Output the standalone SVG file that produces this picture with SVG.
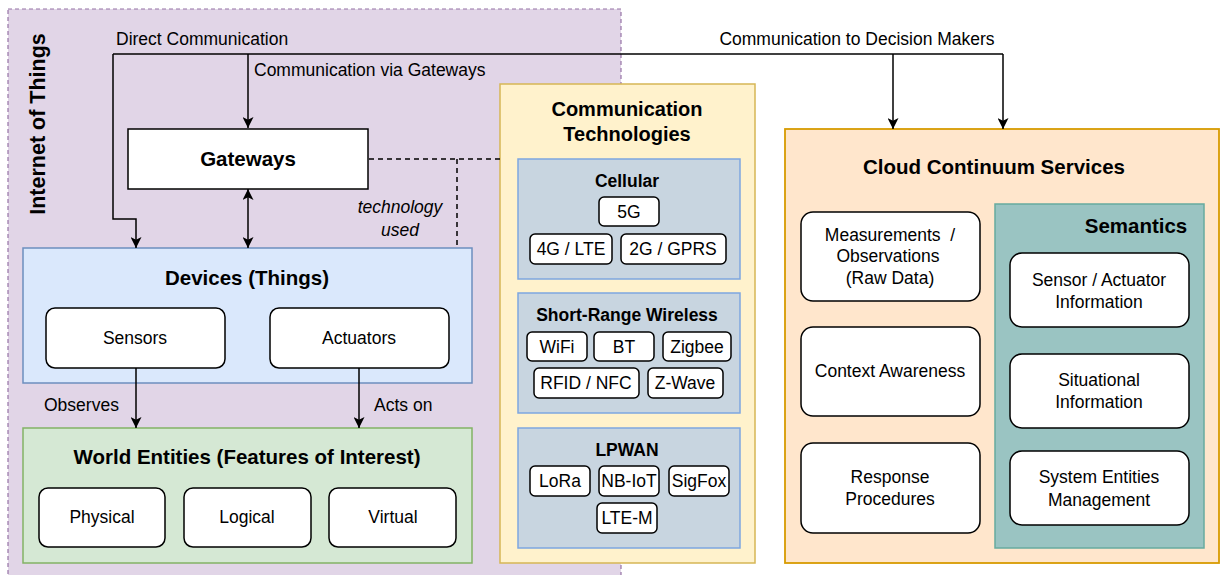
<svg xmlns="http://www.w3.org/2000/svg" width="1221" height="575" viewBox="0 0 1221 575">
<defs>
<style>
text{font-family:"Liberation Sans",Arial,sans-serif;fill:#000}
.t{font-size:17.5px;text-anchor:middle}
.l{font-size:17.5px}
.h{font-size:20.5px;font-weight:bold;text-anchor:middle}
.s{font-size:17.5px;font-weight:bold;text-anchor:middle}
.it{font-size:17.5px;font-style:italic;text-anchor:middle}
.w{fill:#fff;stroke:#000;stroke-width:1.5}
.c{fill:none;stroke:#000;stroke-width:1.5}
.d{fill:none;stroke:#000;stroke-width:1.5;stroke-dasharray:5 4}
.grp{fill:#c8d5e0;stroke:#7ea6e0;stroke-width:1.5}
</style>
<marker id="ah" viewBox="0 0 10 10" refX="10" refY="5" markerWidth="11" markerHeight="11" markerUnits="userSpaceOnUse" orient="auto-start-reverse">
<path d="M0,0 L10,5 L0,10 L2.5,5 z" fill="#000"/>
</marker>
</defs>
<rect width="1221" height="575" fill="#fff"/>

<g id="iot">
<rect x="8" y="9" width="613" height="590" fill="#e1d5e7" stroke="#9673a6" stroke-width="1.2" stroke-dasharray="4 3"/>
<text transform="translate(45,124) rotate(-90)" style="font-size:21.5px;font-weight:bold;text-anchor:middle">Internet of Things</text>
</g>

<g id="gateways">
<rect class="w" x="128" y="129" width="240" height="60"/>
<text class="h" x="248" y="166">Gateways</text>
</g>

<g id="devices">
<rect x="23" y="248" width="449" height="135" fill="#dae8fc" stroke="#6c8ebf" stroke-width="1.5"/>
<text class="h" x="247" y="285">Devices (Things)</text>
</g>
<g id="sensors"><rect class="w" x="46" y="308" width="179" height="60" rx="9"/><text class="t" x="135" y="344">Sensors</text></g>
<g id="actuators"><rect class="w" x="270" y="308" width="179" height="60" rx="9"/><text class="t" x="359" y="344">Actuators</text></g>

<g id="world">
<rect x="23" y="428" width="449" height="135" fill="#d5e8d4" stroke="#82b366" stroke-width="1.5"/>
<text class="h" x="247" y="464">World Entities (Features of Interest)</text>
</g>
<g id="physical"><rect class="w" x="39" y="488" width="126" height="59" rx="9"/><text class="t" x="102" y="523">Physical</text></g>
<g id="logical"><rect class="w" x="184" y="488" width="127" height="59" rx="9"/><text class="t" x="247" y="523">Logical</text></g>
<g id="virtual"><rect class="w" x="329" y="488" width="127" height="59" rx="9"/><text class="t" x="393" y="523">Virtual</text></g>

<g id="commtech">
<rect x="500" y="84" width="255" height="479" fill="#fff2cc" stroke="#d6b656" stroke-width="1.5"/>
<text class="h" x="627" y="116" style="font-size:20px">Communication</text>
<text class="h" x="627" y="141" style="font-size:20px">Technologies</text>
</g>
<g id="cellular">
<rect class="grp" x="518" y="159" width="222" height="120"/>
<text class="s" x="627" y="187">Cellular</text>
<rect class="w" x="599" y="197" width="60" height="29" rx="5"/><text class="t" x="629" y="218">5G</text>
<rect class="w" x="530" y="234" width="82" height="30" rx="5"/><text class="t" x="571" y="255">4G / LTE</text>
<rect class="w" x="621" y="234" width="105" height="30" rx="5"/><text class="t" x="673" y="255">2G / GPRS</text>
</g>
<g id="shortrange">
<rect class="grp" x="518" y="293" width="222" height="120"/>
<text class="s" x="627" y="321">Short-Range Wireless</text>
<rect class="w" x="527" y="332" width="60" height="29" rx="5"/><text class="t" x="557" y="353">WiFi</text>
<rect class="w" x="594" y="332" width="60" height="29" rx="5"/><text class="t" x="624" y="353">BT</text>
<rect class="w" x="663" y="332" width="68" height="29" rx="5"/><text class="t" x="697" y="353">Zigbee</text>
<rect class="w" x="534" y="368" width="105" height="30" rx="5"/><text class="t" x="586" y="389">RFID / NFC</text>
<rect class="w" x="648" y="368" width="75" height="30" rx="5"/><text class="t" x="685" y="389">Z-Wave</text>
</g>
<g id="lpwan">
<rect class="grp" x="518" y="428" width="222" height="120"/>
<text class="s" x="627" y="456">LPWAN</text>
<rect class="w" x="530" y="466" width="60" height="30" rx="5"/><text class="t" x="560" y="487">LoRa</text>
<rect class="w" x="599" y="466" width="60" height="30" rx="5"/><text class="t" x="629" y="487">NB-IoT</text>
<rect class="w" x="669" y="466" width="60" height="30" rx="5"/><text class="t" x="699" y="487">SigFox</text>
<rect class="w" x="597" y="503" width="60" height="30" rx="5"/><text class="t" x="627" y="524">LTE-M</text>
</g>

<g id="cloud">
<rect x="785" y="129" width="434" height="434" fill="#ffe6cc" stroke="#d79b00" stroke-width="1.8"/>
<text class="h" x="994" y="174">Cloud Continuum Services</text>
</g>
<g id="measurements"><rect class="w" x="801" y="212" width="179" height="89" rx="12"/>
<text class="t" x="890" y="241" xml:space="preserve">Measurements  /</text><text class="t" x="888" y="262">Observations</text><text class="t" x="890" y="284">(Raw Data)</text></g>
<g id="context"><rect class="w" x="801" y="327" width="179" height="89" rx="12"/><text class="t" x="890" y="377">Context Awareness</text></g>
<g id="response"><rect class="w" x="801" y="443" width="179" height="90" rx="12"/><text class="t" x="890" y="483">Response</text><text class="t" x="890" y="505">Procedures</text></g>

<g id="semantics">
<rect x="995" y="204" width="209" height="344" fill="#9ac4c2" stroke="#67ab9f" stroke-width="1.5"/>
<text class="h" x="1136" y="233">Semantics</text>
</g>
<g id="sensorinfo"><rect class="w" x="1010" y="253" width="179" height="74" rx="12"/><text class="t" x="1099" y="286">Sensor / Actuator</text><text class="t" x="1099" y="308">Information</text></g>
<g id="situational"><rect class="w" x="1010" y="354" width="179" height="74" rx="12"/><text class="t" x="1099" y="386">Situational</text><text class="t" x="1099" y="408">Information</text></g>
<g id="sysent"><rect class="w" x="1010" y="451" width="179" height="74" rx="12"/><text class="t" x="1099" y="483">System Entities</text><text class="t" x="1099" y="506">Management</text></g>

<g id="connectors">
<path class="c" d="M113,54 H1003"/>
<path class="c" d="M113,54 V219 H136 V248" marker-end="url(#ah)"/>
<path class="c" d="M248,54 V128" marker-end="url(#ah)"/>
<path class="c" d="M893,54 V129" marker-end="url(#ah)"/>
<path class="c" d="M1003,54 V129" marker-end="url(#ah)"/>
<path class="c" d="M248,189 V248" marker-start="url(#ah)" marker-end="url(#ah)"/>
<path class="d" d="M369,159 H500"/>
<path class="d" d="M457,159 V248"/>
<path class="c" d="M136,368 V428" marker-end="url(#ah)"/>
<path class="c" d="M359,368 V428" marker-end="url(#ah)"/>
<text class="l" x="116" y="45">Direct Communication</text>
<text class="l" x="254" y="76">Communication via Gateways</text>
<text class="t" x="857" y="45">Communication to Decision Makers</text>
<text class="it" x="400" y="213">technology</text>
<text class="it" x="400" y="236">used</text>
<text class="l" x="44" y="411">Observes</text>
<text class="l" x="374" y="411">Acts on</text>
</g>
</svg>
